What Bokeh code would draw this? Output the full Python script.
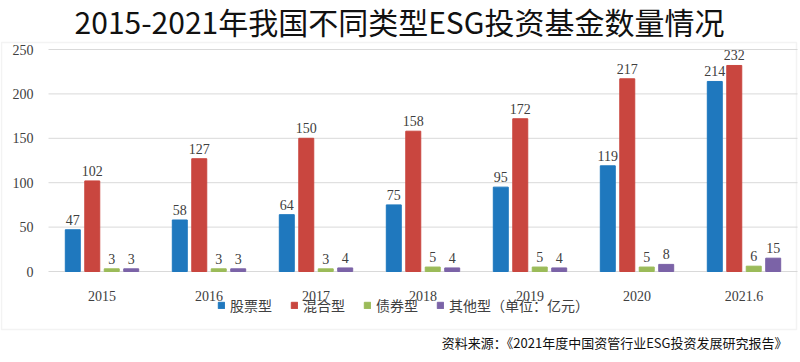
from bokeh.plotting import figure
from bokeh.models import (ColumnDataSource, Range1d, Label, Legend, LegendItem,
                          BoxAnnotation)
from bokeh.transform import dodge
from bokeh.core.properties import value
from bokeh.embed import file_html
from bokeh.resources import INLINE

# ---- data ----
categories = ["2015", "2016", "2017", "2018", "2019", "2020", "2021.6"]
stock = [47, 58, 64, 75, 95, 119, 214]
mixed = [102, 127, 150, 158, 172, 217, 232]
bond = [3, 3, 3, 5, 5, 5, 6]
other = [3, 3, 4, 4, 4, 8, 15]
series_names = ["股票型", "混合型", "债券型", "其他型（单位：亿元）"]
y_ticks = [0, 50, 100, 150, 200, 250]
title_text = "2015-2021年我国不同类型ESG投资基金数量情况"
source_text = "资料来源：《2021年度中国资管行业ESG投资发展研究报告》"

# ---- layout (pixels) ----
W, H = 798, 360
cat_w = 107.0          # pixel width of one category
first_center = 101.5   # pixel x of first category centre
y0_px = 271.0          # pixel y of value 0
px_per_unit = 0.888    # pixels per unit of value

def x_of(px):
    return (px - first_center) / cat_w

def y_of(py):
    return (y0_px - py) / px_per_unit

colors = ["#1F78BE", "#C9463F", "#9BBB59", "#7B63A7"]
offsets = [-0.273, -0.091, 0.091, 0.273]
keys = ["stock", "mixed", "bond", "other"]
series = [stock, mixed, bond, other]

idx = list(range(len(categories)))
n = len(categories)

p = figure(x_range=Range1d(x_of(0), x_of(W)), y_range=Range1d(y_of(H), y_of(0)),
           width=W, height=H, output_backend="svg", toolbar_location=None,
           x_axis_type=None, y_axis_type=None,
           min_border_left=0, min_border_right=0, min_border_top=0,
           min_border_bottom=0)
p.title = None
p.outline_line_color = None
p.background_fill_color = "white"
p.border_fill_color = "white"
p.grid.visible = False

# outer frame
p.add_layout(BoxAnnotation(left=x_of(1), right=x_of(796), top=y_of(42), bottom=y_of(329),
                           fill_alpha=0, line_color="#D6D6D6", line_width=1.5))

# horizontal grid lines across the plot area
p.segment(x0=[-0.5] * len(y_ticks), x1=[n - 0.5] * len(y_ticks), y0=y_ticks, y1=y_ticks,
          line_color="#D9D9D9", line_width=1)

# y tick labels
p.text(x=[-0.5] * len(y_ticks), y=y_ticks, text=[str(t) for t in y_ticks],
       x_offset=-15, text_align="right", text_baseline="middle",
       text_font=value("Liberation Serif"), text_font_size="14px", text_color="#404040")

# category labels
p.text(x=idx, y=[0] * n, text=categories, y_offset=24,
       text_align="center", text_baseline="middle",
       text_font=value("Liberation Serif"), text_font_size="14px", text_color="#404040")

data = dict(x=idx)
for k, s in zip(keys, series):
    data[k] = s
    data[k + "_lbl"] = [str(v) for v in s]
src = ColumnDataSource(data)

renderers = []
for k, c, off in zip(keys, colors, offsets):
    r = p.vbar(x=dodge("x", off), top=k, bottom=0, width=0.14,
               source=src, fill_color=c, line_color=c)
    renderers.append(r)
    p.text(x=dodge("x", off), y=k, text=k + "_lbl", source=src,
           text_align="center", text_baseline="bottom", y_offset=-5,
           text_font=value("Liberation Serif"), text_font_size="14px",
           text_color="#404040")

# legend
legend = Legend(items=[LegendItem(label=nm, renderers=[r]) for nm, r in zip(series_names, renderers)],
                orientation="horizontal", location=(217, H - 315),
                glyph_width=8, glyph_height=8, label_standoff=5, spacing=18,
                padding=0, margin=0, border_line_color=None,
                background_fill_alpha=0, label_height=20,
                label_text_font="Noto Sans CJK SC", label_text_font_size="14px",
                label_text_color="#404040")
p.add_layout(legend)

# title and source
p.add_layout(Label(x=x_of(399), y=y_of(20), text=title_text,
                   text_align="center", text_baseline="middle",
                   text_font="Noto Sans CJK SC", text_font_size="30px",
                   text_color="#111111"))
p.add_layout(Label(x=x_of(787), y=y_of(342), text=source_text,
                   text_align="right", text_baseline="middle",
                   text_font="Noto Sans CJK SC", text_font_size="13px",
                   text_color="#111111"))

open("out.html", "w").write(file_html(p, INLINE))
